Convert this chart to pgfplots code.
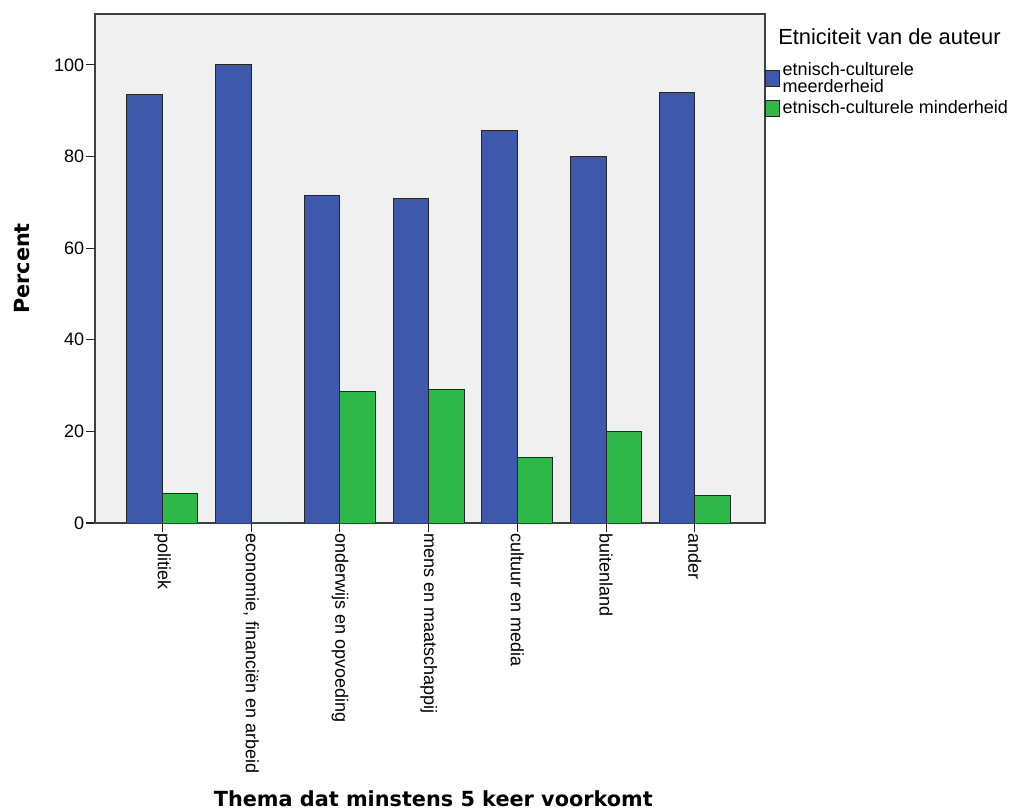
\documentclass[border=0pt]{standalone}
\usepackage{pgfplots}
\pgfplotsset{compat=1.18}
\usepackage{fontspec}
\setmainfont{Liberation Sans}
\newfontfamily\titlefont{DejaVu Sans}
\definecolor{barblue}{RGB}{62,88,172}
\definecolor{bargreen}{RGB}{46,184,74}
\definecolor{bggray}{RGB}{240,240,240}
\begin{document}
\begin{tikzpicture}
\useasboundingbox (-71.25pt,-216.75pt) rectangle (686.25pt,392.25pt);
\begin{axis}[
  at={(0pt,0pt)}, anchor=south west,
  scale only axis,
  width=502.5pt, height=381.75pt,
  xmin=-0.76, xmax=6.79,
  ymin=0, ymax=111.1,
  axis background/.style={fill=bggray},
  axis line style={draw=black!75, line width=0.8pt},
  ytick={0,20,40,60,80,100},
  xtick={0,1,2,3,4,5,6},
  xticklabels={politiek, {economie, financiën en arbeid}, onderwijs en opvoeding, mens en maatschappij, cultuur en media, buitenland, ander},
  x tick label style={rotate=-90, anchor=west, font=\fontsize{13.5pt}{14pt}\selectfont, inner sep=1pt},
  y tick label style={font=\fontsize{13.5pt}{14pt}\selectfont, inner sep=1.5pt},
  /pgf/number format/assume math mode=true,
  tick align=outside,
  major tick length=6.5pt,
  tick style={draw=black!85, line width=0.8pt},
  xtick pos=bottom, ytick pos=left,
  xlabel={\titlefont\bfseries Thema dat minstens 5 keer voorkomt},
  ylabel={\titlefont\bfseries Percent},
  xlabel style={at={(axis description cs:0.505,-0.541)}, anchor=center, font=\fontsize{15.6pt}{17pt}\selectfont},
  ylabel style={at={(axis description cs:-0.109,0.5)}, anchor=center, font=\fontsize{15.6pt}{17pt}\selectfont},
  legend style={at={(axis description cs:1.0,0.911)}, anchor=north west, draw=none, fill=none,
    font=\fontsize{13.5pt}{12.75pt}\selectfont, cells={align=left, anchor=west}, row sep=1pt, inner xsep=0pt, inner ysep=0pt,
    /tikz/every even column/.append style={column sep=0pt}},
  legend cell align=left,
  legend image code/.code={\draw[#1, line width=0.6pt] (0pt,-5.8pt) rectangle (10.5pt,5.8pt);},
]
\addplot[ybar, bar width=0.4, bar shift=-0.2, fill=barblue, draw=black!85, line width=0.7pt]
  coordinates {(0,93.6) (1,100) (2,71.4) (3,70.8) (4,85.7) (5,80.0) (6,93.9)};
\addlegendentry{etnisch-culturele\\meerderheid}
\addplot[ybar, bar width=0.4, bar shift=0.2, fill=bargreen, draw=black!85, line width=0.7pt]
  coordinates {(0,6.4) (1,0) (2,28.6) (3,29.2) (4,14.3) (5,20.0) (6,6.1)};
\addlegendentry{etnisch-culturele minderheid}
\end{axis}
\node[anchor=west, inner sep=0pt, font=\fontsize{16.4pt}{18pt}\selectfont] at (512.25pt,364.5pt) {Etniciteit van de auteur};
\end{tikzpicture}
\end{document}
